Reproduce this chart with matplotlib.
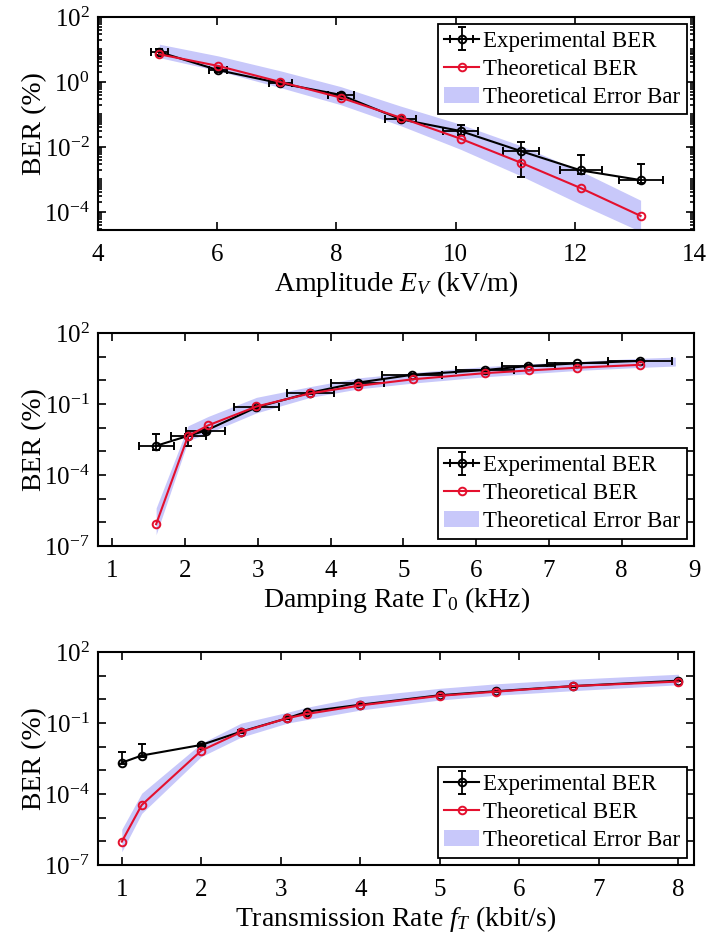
import matplotlib
matplotlib.use("Agg")
import matplotlib.pyplot as plt
import numpy as np

plt.rcParams['font.family'] = ['Liberation Serif', 'DejaVu Serif']
plt.rcParams['mathtext.fontset'] = 'custom'
plt.rcParams['mathtext.rm'] = 'Liberation Serif'
plt.rcParams['mathtext.it'] = 'Liberation Serif:italic'
plt.rcParams['mathtext.bf'] = 'Liberation Serif:bold'

# ---- panel 1: amplitude ----
amp_x = [5.03, 6.02, 7.06, 8.07, 9.08, 10.08, 11.09, 12.10, 13.10]
amp_exp = [8.3, 2.3, 0.91, 0.40, 0.071, 0.031, 0.0075, 0.0019, 0.00096]
amp_exp_lo = [6.8, 2.0, 0.80, 0.35, 0.062, 0.023, 0.0012, 0.0015, 0.00076]
amp_exp_hi = [10.0, 2.6, 1.02, 0.45, 0.080, 0.047, 0.014, 0.0056, 0.0029]
amp_xerr = [0.14, 0.15, 0.19, 0.22, 0.26, 0.29, 0.30, 0.35, 0.37]
amp_theo = [7.1, 3.1, 1.0, 0.33, 0.079, 0.018, 0.0033, 0.00054, 0.000076]
amp_band_hi = [14.5, 6.3, 2.2, 0.72, 0.18, 0.05, 0.011, 0.0018, 0.00023]
amp_band_lo = [5.6, 2.2, 0.67, 0.20, 0.045, 0.0085, 0.0013, 0.00017, 0.000025]

# ---- panel 2: damping rate ----
damp_x = [1.60, 2.04, 2.28, 2.98, 3.72, 4.37, 5.12, 6.12, 6.72, 7.39, 8.26]
damp_exp = [0.0017, 0.0045, 0.0074, 0.072, 0.30, 0.79, 1.7, 2.7, 4.0, 5.2, 6.6]
damp_exp_lo = [0.00115, 0.0016, 0.0062, 0.064, 0.27, 0.72, 1.55, 2.5, 3.7, 4.8, 6.1]
damp_exp_hi = [0.0052, 0.0052, 0.0086, 0.080, 0.33, 0.86, 1.85, 2.9, 4.3, 5.6, 7.1]
damp_xerr = [0.24, 0.24, 0.27, 0.31, 0.32, 0.37, 0.41, 0.40, 0.37, 0.42, 0.44]
damp_theo_x = [1.60, 2.04, 2.32, 2.98, 3.72, 4.38, 5.13, 6.12, 6.73, 7.39, 8.26]
damp_theo = [8.3e-7, 0.0045, 0.0126, 0.078, 0.28, 0.58, 1.1, 2.0, 2.6, 3.4, 4.5]
damp_band_x = [1.60, 2.04, 2.32, 2.98, 3.72, 4.38, 5.13, 6.12, 6.73, 7.39, 8.26, 8.74]
damp_band_hi = [4e-6, 0.012, 0.03, 0.19, 0.54, 1.26, 2.1, 3.8, 4.9, 6.2, 8.5, 9.5]
damp_band_lo = [3e-7, 0.0028, 0.0059, 0.042, 0.19, 0.43, 0.76, 1.4, 1.9, 2.6, 3.5, 4.0]

# ---- panel 3: transmission rate ----
rate_x = [1.0, 1.25, 2.0, 2.5, 3.08, 3.33, 4.0, 5.0, 5.71, 6.67, 8.0]
rate_exp = [0.0021, 0.0042, 0.0118, 0.043, 0.158, 0.30, 0.59, 1.48, 2.2, 3.6, 6.1]
rate_exp_lo = [0.0018, 0.0037, 0.0105, 0.038, 0.145, 0.28, 0.55, 1.40, 2.1, 3.4, 5.8]
rate_exp_hi = [0.0062, 0.0126, 0.0135, 0.049, 0.172, 0.32, 0.63, 1.56, 2.3, 3.8, 6.4]
rate_theo = [9.7e-7, 3.4e-5, 0.0068, 0.041, 0.158, 0.24, 0.55, 1.4, 2.1, 3.6, 5.6]
rate_band_hi = [3.2e-6, 1.07e-4, 0.0138, 0.098, 0.28, 0.46, 1.29, 2.9, 4.5, 7.0, 11.4]
rate_band_lo = [3.6e-7, 1.5e-5, 0.0038, 0.025, 0.098, 0.14, 0.35, 0.93, 1.48, 2.3, 4.1]

labels = ['Experimental BER', 'Theoretical BER', 'Theoretical Error Bar']
decade_ticks = [1e-7, 1e-6, 1e-5, 1e-4, 1e-3, 1e-2, 1e-1, 1e0, 1e1, 1e2]
decade_labels = [r'$10^{-7}$', '', '', r'$10^{-4}$', '', '', r'$10^{-1}$', '', '', r'$10^{2}$']

band_color = '#c8c8fa'
red = '#e4102e'

fig = plt.figure(figsize=(7.15, 9.41), dpi=100)
left, width, height = 0.137, 0.834, 0.2264
ax1 = fig.add_axes([left, 0.7556, width, height])
ax2 = fig.add_axes([left, 0.4198, width, height])
ax3 = fig.add_axes([left, 0.0808, width, height])


def draw(ax, x_exp, y_exp, lo, hi, xerr, x_theo, y_theo, bx, blo, bhi):
    ax.fill_between(bx, blo, bhi, color=band_color, lw=0, zorder=1)
    yerr = [np.array(y_exp) - np.array(lo), np.array(hi) - np.array(y_exp)]
    eb = ax.errorbar(x_exp, y_exp, xerr=xerr, yerr=yerr, fmt='-o', color='k',
                     mfc='none', ms=5.5, mew=1.4, lw=1.5, elinewidth=1.3,
                     capsize=3, capthick=1.3, zorder=3)
    ln, = ax.plot(x_theo, y_theo, '-o', color=red, mfc='none', ms=5.5, mew=1.4,
                  lw=1.5, zorder=4)
    patch = plt.Rectangle((0, 0), 1, 1, color=band_color, lw=0)
    return [eb, ln, patch]


h1 = draw(ax1, amp_x, amp_exp, amp_exp_lo, amp_exp_hi, amp_xerr,
          amp_x, amp_theo, amp_x, amp_band_lo, amp_band_hi)
h2 = draw(ax2, damp_x, damp_exp, damp_exp_lo, damp_exp_hi, damp_xerr,
          damp_theo_x, damp_theo, damp_band_x, damp_band_lo, damp_band_hi)
h3 = draw(ax3, rate_x, rate_exp, rate_exp_lo, rate_exp_hi, None,
          rate_x, rate_theo, rate_x, rate_band_lo, rate_band_hi)

for ax in (ax1, ax2, ax3):
    ax.set_yscale('log')
    ax.set_ylabel('BER (%)', fontsize=20, labelpad=-2)
    ax.tick_params(which='both', direction='in', top=True, right=True,
                   labelsize=18, width=1.2)
    ax.tick_params(which='major', length=6)
    ax.tick_params(which='minor', length=3)
    ax.tick_params(axis='x', pad=10)
    ax.tick_params(axis='y', pad=6)
    for s in ax.spines.values():
        s.set_linewidth(1.5)

ax1.set_xlim(4, 14)
ax1.set_ylim(2.8e-5, 100)
ax1.set_xticks([4, 6, 8, 10, 12, 14])
ax1.set_yticks([1e-4, 1e-2, 1e0, 1e2])
ax1.yaxis.set_minor_locator(matplotlib.ticker.LogLocator(base=10, subs=np.arange(1, 10), numticks=30))
ax1.yaxis.set_minor_formatter(matplotlib.ticker.NullFormatter())
ax1.set_xlabel(r'Amplitude $E_V$ (kV/m)', fontsize=20, labelpad=2)

ax2.set_xlim(0.8, 9)
ax2.set_xticks(range(1, 10))
ax2.set_xlabel(r'Damping Rate $\Gamma_0$ (kHz)', fontsize=20, labelpad=2)

ax3.set_xlim(0.7, 8.2)
ax3.set_xticks(range(1, 9))
ax3.set_xlabel(r'Transmission Rate $f_T$ (kbit/s)', fontsize=20, labelpad=2)

for ax in (ax2, ax3):
    ax.set_ylim(1e-7, 100)
    ax.set_yticks(decade_ticks)
    ax.set_yticklabels(decade_labels)
    ax.yaxis.set_minor_locator(matplotlib.ticker.NullLocator())

for ax, h, loc in ((ax1, h1, 'upper right'), (ax2, h2, 'lower right'), (ax3, h3, 'lower right')):
    leg = ax.legend(h, labels, loc=loc, fontsize=16.5, fancybox=False,
                    edgecolor='k', framealpha=1, handlelength=1.5,
                    handletextpad=0.2, labelspacing=0.3, borderpad=0.3,
                    borderaxespad=0.3)
    leg.get_frame().set_linewidth(1.3)

fig.savefig('out.png', dpi=100)
